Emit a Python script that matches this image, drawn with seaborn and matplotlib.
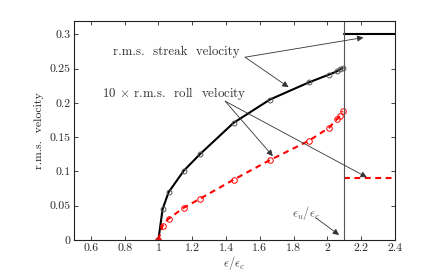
import numpy as np
import pandas as pd
import matplotlib
matplotlib.use("Agg")
import matplotlib.pyplot as plt
import seaborn as sns

# epsilon / epsilon_c values where the simulations were run
eps = [1.0, 1.025, 1.06, 1.15, 1.245, 1.445, 1.66, 1.89, 2.01, 2.055, 2.075, 2.09]
# r.m.s. streak velocity
streak = [0.0, 0.045, 0.0695, 0.101, 0.125, 0.171, 0.205, 0.230, 0.2415, 0.246, 0.249, 0.251]
# 10 x r.m.s. roll velocity
roll = [0.0, 0.021, 0.031, 0.047, 0.060, 0.088, 0.1166, 0.1448, 0.164, 0.176, 0.181, 0.188]

# values beyond eps_u / eps_c
eps_hi = [2.1, 2.4]
streak_hi = [0.30, 0.30]
roll_hi = [0.09, 0.09]
eps_u = 2.1

sns.set_style("ticks")
plt.rcParams["font.family"] = "serif"
plt.rcParams["font.serif"] = ["cmr10", "DejaVu Serif"]
plt.rcParams["mathtext.fontset"] = "cm"
plt.rcParams["axes.formatter.use_mathtext"] = True

df = pd.DataFrame({"eps": eps, "streak": streak, "roll": roll})
df_hi = pd.DataFrame({"eps": eps_hi, "streak": streak_hi, "roll": roll_hi})

fig = plt.figure(figsize=(4.37, 2.73), dpi=100)
ax = fig.add_axes([0.169, 0.121, 0.735, 0.803])

sns.lineplot(data=df, x="eps", y="streak", ax=ax, color="black", lw=1.5,
             marker="o", markersize=3.5, markerfacecolor="none",
             markeredgecolor="#555555", markeredgewidth=0.7)
sns.lineplot(data=df, x="eps", y="roll", ax=ax, color="red", lw=1.5,
             dashes=(2.8, 2.2), marker="o", markersize=4, markerfacecolor="none",
             markeredgecolor="red", markeredgewidth=0.7)
sns.lineplot(data=df_hi, x="eps", y="streak", ax=ax, color="black", lw=1.5)
sns.lineplot(data=df_hi, x="eps", y="roll", ax=ax, color="red", lw=1.5, dashes=(2.8, 2.2))
ax.axvline(eps_u, color="#555555", lw=0.8)

ax.set_xlim(0.5, 2.4)
ax.set_ylim(0, 0.32)
ax.set_xticks(np.arange(0.6, 2.41, 0.2))
ax.set_xticklabels(["0.6", "0.8", "1", "1.2", "1.4", "1.6", "1.8", "2", "2.2", "2.4"])
ax.set_yticks([0, 0.05, 0.1, 0.15, 0.2, 0.25, 0.3])
ax.set_yticklabels(["0", "0.05", "0.1", "0.15", "0.2", "0.25", "0.3"])
ax.tick_params(direction="in", top=True, right=True, labelsize=8.5, length=3, width=0.6,
               pad=2.5)
for s in ax.spines.values():
    s.set_linewidth(0.8)
    s.set_color("#222222")

ax.set_xlabel(r"$\epsilon/\epsilon_c$", fontsize=9, color="#444444", labelpad=1)
ax.set_ylabel("r.m.s.  velocity", fontsize=8.5, color="#222222", labelpad=4)

# annotations
txt = "#333333"
arr = dict(arrowstyle="-|>", color="#333333", lw=0.6, mutation_scale=9, shrinkA=0, shrinkB=0)
ax.text(0.73, 0.2745, "r.m.s.  streak  velocity", fontsize=9.3, color=txt, va="center")
ax.annotate("", xy=(2.213, 0.2955), xytext=(1.513, 0.2668), arrowprops=arr)
ax.annotate("", xy=(1.77, 0.223), xytext=(1.513, 0.2668), arrowprops=arr)

ax.text(0.665, 0.2139, r"10 $\times$ r.m.s.  roll  velocity", fontsize=9.3, color=txt, va="center")
ax.annotate("", xy=(1.677, 0.1224), xytext=(1.395, 0.2026), arrowprops=arr)
ax.annotate("", xy=(2.233, 0.0915), xytext=(1.395, 0.2026), arrowprops=arr)

ax.text(1.789, 0.039, r"$\epsilon_u/\epsilon_c$", fontsize=9, color="#555555", va="center")
ax.annotate("", xy=(2.069, 0.0073), xytext=(1.933, 0.032), arrowprops=arr)

fig.savefig("out.png", dpi=100)
